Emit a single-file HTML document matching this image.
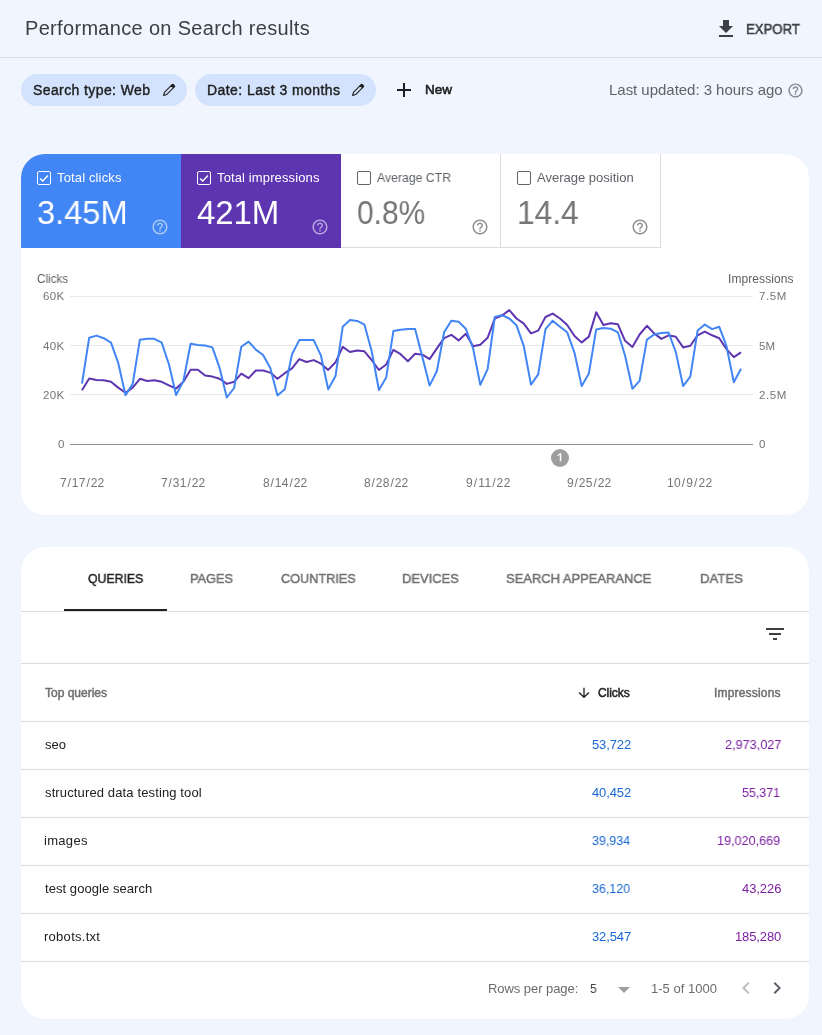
<!DOCTYPE html>
<html><head><meta charset="utf-8"><title>Performance</title><style>
html,body{margin:0;padding:0}
body{width:822px;height:1035px;background:#f1f5fd;position:relative;overflow:hidden;font-family:"Liberation Sans", sans-serif;}
.t{position:absolute;white-space:pre;line-height:20px;transform-origin:0 0;will-change:transform;font-family:"Liberation Sans", sans-serif;}
.i{position:absolute;display:block}
.b{position:absolute;box-sizing:border-box}
</style></head><body>
<div class="b" style="left:0;top:57px;width:822px;height:1px;background:#dce0df"></div>
<svg class="i" style="left:714px;top:17px" width="24" height="24" viewBox="0 0 24 24"><path d="M19 9h-4V3H9v6H5l7 7 7-7zM5 18v2h14v-2H5z" fill="#3c4043" fill-opacity="1"/></svg>
<div class="b" style="left:21px;top:74px;width:166px;height:32px;border-radius:16px;background:#d3e3fd"></div>
<div class="b" style="left:195px;top:74px;width:181px;height:32px;border-radius:16px;background:#d3e3fd"></div>
<svg class="i" style="left:158.60px;top:80.30px" width="20" height="20" viewBox="-10 -10 20 20"><g transform="rotate(45)" stroke="#1f1f1f" stroke-width="1.1" stroke-linejoin="round"><path d="M-1.55,-4.9 L-1.55,4.9 L0,7.6 L1.55,4.9 L1.55,-4.9 Z" fill="none"/><path d="M-1.55,-4.9 L-1.55,-6.3 Q-1.55,-6.8 -1.05,-6.8 L1.05,-6.8 Q1.55,-6.8 1.55,-6.3 L1.55,-4.9 Z" fill="#1f1f1f"/></g></svg>
<svg class="i" style="left:347.60px;top:80.30px" width="20" height="20" viewBox="-10 -10 20 20"><g transform="rotate(45)" stroke="#1f1f1f" stroke-width="1.1" stroke-linejoin="round"><path d="M-1.55,-4.9 L-1.55,4.9 L0,7.6 L1.55,4.9 L1.55,-4.9 Z" fill="none"/><path d="M-1.55,-4.9 L-1.55,-6.3 Q-1.55,-6.8 -1.05,-6.8 L1.05,-6.8 Q1.55,-6.8 1.55,-6.3 L1.55,-4.9 Z" fill="#1f1f1f"/></g></svg>
<div class="b" style="left:397px;top:89px;width:14px;height:2px;background:#1f1f1f"></div>
<div class="b" style="left:403px;top:83px;width:2px;height:14px;background:#1f1f1f"></div>
<svg class="i" style="left:786.8px;top:81.5px" width="17" height="17" viewBox="0 0 24 24"><path d="M11 18h2v-2h-2v2zm1-16C6.48 2 2 6.48 2 12s4.48 10 10 10 10-4.480 10-10S17.52 2 12 2zm0 18c-4.41 0-8-3.59-8-8s3.590-8 8-8 8 3.590 8 8-3.590 8-8 8zm0-14c-2.21 0-4 1.790-4 4h2c0-1.100.900-2 2-2s2 .900 2 2c0 2-3 1.750-3 5h2c0-2.250 3-2.500 3-5 0-2.210-1.790-4-4-4z" fill="#5f6368" fill-opacity="0.75"/></svg>
<div class="b" style="left:21px;top:154px;width:788px;height:361px;border-radius:24px;background:#fff;overflow:hidden"><div class="b" style="left:0;top:0;width:160px;height:94px;background:#4285f4"></div><div class="b" style="left:160px;top:0;width:160px;height:94px;background:#5e35b1"></div><div class="b" style="left:320px;top:0;width:160px;height:94px;border-right:1px solid #dadce0;border-bottom:1px solid #dadce0"></div><div class="b" style="left:480px;top:0;width:160px;height:94px;border-right:1px solid #dadce0;border-bottom:1px solid #dadce0"></div></div>
<div class="b" style="left:37px;top:171px;width:14px;height:14px;border:1.4px solid #fff;border-radius:2px"></div>
<svg class="i" style="left:37px;top:171px" width="14" height="14" viewBox="0 0 14 14"><path d="M3.1 7.4 L5.7 10 L11 4.6" fill="none" stroke="#fff" stroke-width="1.4"/></svg>
<div class="b" style="left:197px;top:171px;width:14px;height:14px;border:1.4px solid #fff;border-radius:2px"></div>
<svg class="i" style="left:197px;top:171px" width="14" height="14" viewBox="0 0 14 14"><path d="M3.1 7.4 L5.7 10 L11 4.6" fill="none" stroke="#fff" stroke-width="1.4"/></svg>
<div class="b" style="left:357px;top:171px;width:14px;height:14px;border:1.4px solid #5f6368;border-radius:2px"></div>
<div class="b" style="left:517px;top:171px;width:14px;height:14px;border:1.4px solid #5f6368;border-radius:2px"></div>
<svg class="i" style="left:151px;top:218px" width="18" height="18" viewBox="0 0 24 24"><path d="M11 18h2v-2h-2v2zm1-16C6.48 2 2 6.48 2 12s4.48 10 10 10 10-4.480 10-10S17.52 2 12 2zm0 18c-4.41 0-8-3.59-8-8s3.590-8 8-8 8 3.590 8 8-3.590 8-8 8zm0-14c-2.21 0-4 1.790-4 4h2c0-1.100.900-2 2-2s2 .900 2 2c0 2-3 1.750-3 5h2c0-2.250 3-2.500 3-5 0-2.210-1.790-4-4-4z" fill="#fff" fill-opacity="0.55"/></svg>
<svg class="i" style="left:311px;top:218px" width="18" height="18" viewBox="0 0 24 24"><path d="M11 18h2v-2h-2v2zm1-16C6.48 2 2 6.48 2 12s4.48 10 10 10 10-4.480 10-10S17.52 2 12 2zm0 18c-4.41 0-8-3.59-8-8s3.590-8 8-8 8 3.590 8 8-3.590 8-8 8zm0-14c-2.21 0-4 1.790-4 4h2c0-1.100.900-2 2-2s2 .900 2 2c0 2-3 1.750-3 5h2c0-2.250 3-2.500 3-5 0-2.210-1.790-4-4-4z" fill="#fff" fill-opacity="0.55"/></svg>
<svg class="i" style="left:471px;top:218px" width="18" height="18" viewBox="0 0 24 24"><path d="M11 18h2v-2h-2v2zm1-16C6.48 2 2 6.48 2 12s4.48 10 10 10 10-4.480 10-10S17.52 2 12 2zm0 18c-4.41 0-8-3.59-8-8s3.590-8 8-8 8 3.590 8 8-3.590 8-8 8zm0-14c-2.21 0-4 1.790-4 4h2c0-1.100.900-2 2-2s2 .900 2 2c0 2-3 1.750-3 5h2c0-2.250 3-2.500 3-5 0-2.210-1.790-4-4-4z" fill="#5f6368" fill-opacity="0.7"/></svg>
<svg class="i" style="left:631px;top:218px" width="18" height="18" viewBox="0 0 24 24"><path d="M11 18h2v-2h-2v2zm1-16C6.48 2 2 6.48 2 12s4.48 10 10 10 10-4.480 10-10S17.52 2 12 2zm0 18c-4.41 0-8-3.59-8-8s3.590-8 8-8 8 3.590 8 8-3.590 8-8 8zm0-14c-2.21 0-4 1.790-4 4h2c0-1.100.900-2 2-2s2 .900 2 2c0 2-3 1.750-3 5h2c0-2.250 3-2.500 3-5 0-2.210-1.790-4-4-4z" fill="#5f6368" fill-opacity="0.7"/></svg>
<svg class="i" style="left:0;top:0" width="822" height="520" viewBox="0 0 822 520"><line x1="70" x2="753" y1="296.5" y2="296.5" stroke="#e9e9e9" stroke-width="1"/><line x1="70" x2="753" y1="345.5" y2="345.5" stroke="#e9e9e9" stroke-width="1"/><line x1="70" x2="753" y1="394.5" y2="394.5" stroke="#e9e9e9" stroke-width="1"/><line x1="70" x2="753" y1="444.5" y2="444.5" stroke="#8f8f8f" stroke-width="1"/><polyline points="82.0,390.2 89.2,378.4 96.5,380.0 103.7,380.3 111.0,381.8 118.2,387.6 125.5,392.8 132.7,387.6 139.9,378.8 147.2,381.0 154.4,380.3 161.7,381.8 168.9,385.4 176.1,388.6 183.4,381.8 190.6,369.8 197.9,369.8 205.1,375.5 212.4,376.6 219.6,378.8 226.8,383.9 234.1,381.8 241.3,373.7 248.6,378.1 255.8,370.5 263.1,370.5 270.3,372.6 277.5,378.7 284.8,373.2 292.0,368.4 299.3,359.1 306.5,362.0 313.7,360.1 321.0,363.7 328.2,369.9 335.5,362.3 342.7,346.9 350.0,352.0 357.2,350.6 364.4,351.3 371.7,360.1 378.9,370.0 386.2,364.5 393.4,349.9 400.6,354.2 407.9,361.2 415.1,353.8 422.4,354.7 429.6,359.1 436.9,348.4 444.1,338.2 451.3,334.8 458.6,340.4 465.8,333.8 473.1,346.2 480.3,344.7 487.6,337.8 494.8,318.5 502.0,315.5 509.3,310.1 516.5,318.5 523.8,323.6 531.0,333.4 538.2,330.6 545.5,317.0 552.7,313.6 560.0,318.5 567.2,325.0 574.5,336.0 581.7,342.4 588.9,336.6 596.2,312.2 603.4,325.0 610.7,323.3 617.9,324.3 625.1,340.8 632.4,346.9 639.6,334.5 646.9,325.8 654.1,333.4 661.4,338.9 668.6,335.3 675.8,336.7 683.1,347.4 690.3,345.8 697.6,335.3 704.8,331.6 712.1,335.3 719.3,338.2 726.5,349.1 733.8,357.2 741.0,352.3" fill="none" stroke="#5e35b1" stroke-width="2" stroke-linejoin="round"/><polyline points="82.0,383.5 89.2,337.7 96.5,335.6 103.7,338.2 111.0,342.6 118.2,362.8 125.5,395.2 132.7,383.9 139.9,339.7 147.2,338.8 154.4,338.8 161.7,342.6 168.9,364.2 176.1,395.0 183.4,381.0 190.6,343.8 197.9,345.0 205.1,345.5 212.4,347.4 219.6,367.9 226.8,397.5 234.1,388.0 241.3,346.7 248.6,341.6 255.8,349.6 263.1,355.0 270.3,367.9 277.5,395.5 284.8,389.3 292.0,354.2 299.3,340.1 306.5,340.1 313.7,340.1 321.0,355.7 328.2,389.3 335.5,376.1 342.7,326.8 350.0,319.9 357.2,320.9 364.4,324.6 371.7,351.3 378.9,390.0 386.2,377.6 393.4,330.9 400.6,329.7 407.9,329.1 415.1,329.1 422.4,357.2 429.6,385.6 436.9,371.0 444.1,332.3 451.3,320.7 458.6,321.8 465.8,328.7 473.1,348.4 480.3,384.9 487.6,369.2 494.8,317.0 502.0,315.1 509.3,318.5 516.5,325.3 523.8,346.2 531.0,384.6 538.2,374.4 545.5,329.1 552.7,320.7 560.0,326.8 567.2,332.3 574.5,352.8 581.7,386.1 588.9,373.4 596.2,329.4 603.4,328.0 610.7,328.7 617.9,332.3 625.1,355.7 632.4,388.8 639.6,380.8 646.9,339.6 654.1,334.5 661.4,333.1 668.6,332.6 675.8,352.0 683.1,386.1 690.3,376.7 697.6,330.6 704.8,324.6 712.1,329.1 719.3,326.8 726.5,346.2 733.8,382.3 741.0,368.8" fill="none" stroke="#4285f4" stroke-width="2" stroke-linejoin="round"/><circle cx="560" cy="458" r="9" fill="#9e9e9e"/><path d="M559.75,461.2 V455.1 L557.4,456.0 V454.9 L560.5,453.1 H561.25 V461.2 Z" fill="#fff"/></svg>
<div class="b" style="left:21px;top:547px;width:788px;height:472px;border-radius:24px;background:#fff;overflow:hidden"><div class="b" style="left:0;top:64px;width:788px;height:1px;background:#dadce0"></div><div class="b" style="left:0;top:116px;width:788px;height:1px;background:#dadce0"></div><div class="b" style="left:0;top:174px;width:788px;height:1px;background:#dadce0"></div><div class="b" style="left:0;top:222px;width:788px;height:1px;background:#dadce0"></div><div class="b" style="left:0;top:270px;width:788px;height:1px;background:#dadce0"></div><div class="b" style="left:0;top:318px;width:788px;height:1px;background:#dadce0"></div><div class="b" style="left:0;top:366px;width:788px;height:1px;background:#dadce0"></div><div class="b" style="left:0;top:414px;width:788px;height:1px;background:#dadce0"></div><div class="b" style="left:43px;top:62px;width:103px;height:2px;background:#202124"></div></div>
<svg class="i" style="left:763px;top:622px" width="24" height="24" viewBox="0 0 24 24"><path d="M10 18h4v-2h-4v2zM3 6v2h18V6H3zm3 7h12v-2H6v2z" fill="#3c4043" fill-opacity="1"/></svg>
<svg class="i" style="left:575.7px;top:685.2px" width="16" height="16" viewBox="0 0 24 24"><path d="M20 12l-1.410-1.410L13 16.170V4h-2v12.170l-5.580-5.590L4 12l8 8 8-8z" fill="#202124"/></svg>
<svg class="i" style="left:618px;top:986.5px" width="12" height="6" viewBox="0 0 12 6"><path d="M0 0h12L6 6z" fill="#9e9e9e"/></svg>
<svg class="i" style="left:733.5px;top:976px" width="24" height="24" viewBox="0 0 24 24"><path d="M15.41 7.41L14 6l-6 6 6 6 1.410-1.410L10.830 12z" fill="#bdbdbd" fill-opacity="1"/></svg>
<svg class="i" style="left:764.8px;top:976px" width="24" height="24" viewBox="0 0 24 24"><path d="M10 6L8.590 7.410 13.170 12l-4.580 4.590L10 18l6-6z" fill="#5f6368" fill-opacity="1"/></svg>
<div class="t" style="left:25.00px;top:18.07px;font-size:20px;font-weight:400;color:#3c4043;letter-spacing:0.321px;">Performance on Search results</div>
<div class="t" style="left:745.56px;top:19.45px;font-size:14px;font-weight:400;color:#3c4043;transform:scaleX(0.9386);-webkit-text-stroke:0.5px #3c4043;">EXPORT</div>
<div class="t" style="left:33.40px;top:80.15px;font-size:14px;font-weight:400;color:#1f1f1f;letter-spacing:0.400px;-webkit-text-stroke:0.42px #1f1f1f;">Search type: Web</div>
<div class="t" style="left:206.50px;top:80.15px;font-size:14px;font-weight:400;color:#1f1f1f;letter-spacing:0.428px;-webkit-text-stroke:0.42px #1f1f1f;">Date: Last 3 months</div>
<div class="t" style="left:425.00px;top:80.12px;font-size:13.5px;font-weight:400;color:#1f1f1f;transform:scaleX(0.9857);-webkit-text-stroke:0.6px #1f1f1f;">New</div>
<div class="t" style="left:609.40px;top:79.80px;font-size:15px;font-weight:400;color:#5f6368;letter-spacing:-0.029px;">Last updated: 3 hours ago</div>
<div class="t" style="left:57.20px;top:167.70px;font-size:13px;font-weight:400;color:#fff;letter-spacing:0.145px;">Total clicks</div>
<div class="t" style="left:37.01px;top:202.77px;font-size:33px;font-weight:400;color:#fff;transform:scaleX(0.9886);">3.45M</div>
<div class="t" style="left:217.20px;top:167.70px;font-size:13px;font-weight:400;color:#fff;letter-spacing:0.125px;">Total impressions</div>
<div class="t" style="left:197.40px;top:202.77px;font-size:33px;font-weight:400;color:#fff;letter-spacing:-0.100px;">421M</div>
<div class="t" style="left:377.20px;top:167.70px;font-size:13px;font-weight:400;color:#5f6368;transform:scaleX(0.9423);">Average CTR</div>
<div class="t" style="left:357.09px;top:202.77px;font-size:33px;font-weight:400;color:#757575;transform:scaleX(0.9082);">0.8%</div>
<div class="t" style="left:537.20px;top:167.70px;font-size:13px;font-weight:400;color:#5f6368;">Average position</div>
<div class="t" style="left:516.98px;top:202.77px;font-size:33px;font-weight:400;color:#757575;transform:scaleX(0.9613);">14.4</div>
<div class="t" style="left:37.40px;top:268.84px;font-size:12px;font-weight:400;color:#616161;transform:scaleX(0.9719);">Clicks</div>
<div class="t" style="left:727.50px;top:268.84px;font-size:12px;font-weight:400;color:#616161;letter-spacing:0.080px;">Impressions</div>
<div class="t" style="left:42.80px;top:286.22px;font-size:11.5px;font-weight:400;color:#757575;letter-spacing:0.400px;">60K</div>
<div class="t" style="left:42.80px;top:335.52px;font-size:11.5px;font-weight:400;color:#757575;letter-spacing:0.400px;">40K</div>
<div class="t" style="left:42.80px;top:384.82px;font-size:11.5px;font-weight:400;color:#757575;letter-spacing:0.400px;">20K</div>
<div class="t" style="left:58.00px;top:434.22px;font-size:11.5px;font-weight:400;color:#757575;transform:scaleX(0.9667);">0</div>
<div class="t" style="left:759.40px;top:286.22px;font-size:11.5px;font-weight:400;color:#757575;letter-spacing:0.600px;">7.5M</div>
<div class="t" style="left:759.40px;top:335.52px;font-size:11.5px;font-weight:400;color:#757575;">5M</div>
<div class="t" style="left:759.40px;top:384.82px;font-size:11.5px;font-weight:400;color:#757575;letter-spacing:0.600px;">2.5M</div>
<div class="t" style="left:759.40px;top:434.22px;font-size:11.5px;font-weight:400;color:#757575;transform:scaleX(0.9667);">0</div>
<div class="t" style="left:60.00px;top:473.14px;font-size:12px;font-weight:400;color:#757575;letter-spacing:0.267px;">7<span style="margin:0 0.65px">/</span>17<span style="margin:0 0.65px">/</span>22</div>
<div class="t" style="left:161.39px;top:473.14px;font-size:12px;font-weight:400;color:#757575;letter-spacing:0.267px;">7<span style="margin:0 0.65px">/</span>31<span style="margin:0 0.65px">/</span>22</div>
<div class="t" style="left:262.78px;top:473.14px;font-size:12px;font-weight:400;color:#757575;letter-spacing:0.267px;">8<span style="margin:0 0.65px">/</span>14<span style="margin:0 0.65px">/</span>22</div>
<div class="t" style="left:364.17px;top:473.14px;font-size:12px;font-weight:400;color:#757575;letter-spacing:0.267px;">8<span style="margin:0 0.65px">/</span>28<span style="margin:0 0.65px">/</span>22</div>
<div class="t" style="left:465.56px;top:473.14px;font-size:12px;font-weight:400;color:#757575;letter-spacing:0.433px;">9<span style="margin:0 0.65px">/</span>11<span style="margin:0 0.65px">/</span>22</div>
<div class="t" style="left:566.95px;top:473.14px;font-size:12px;font-weight:400;color:#757575;letter-spacing:0.267px;">9<span style="margin:0 0.65px">/</span>25<span style="margin:0 0.65px">/</span>22</div>
<div class="t" style="left:667.34px;top:473.14px;font-size:12px;font-weight:400;color:#757575;letter-spacing:0.433px;">10<span style="margin:0 0.65px">/</span>9<span style="margin:0 0.65px">/</span>22</div>
<div class="t" style="left:87.70px;top:569.32px;font-size:13.5px;font-weight:400;color:#202124;transform:scaleX(0.9098);-webkit-text-stroke:0.5px #202124;">QUERIES</div>
<div class="t" style="left:189.86px;top:569.32px;font-size:13.5px;font-weight:400;color:#707070;transform:scaleX(0.9444);-webkit-text-stroke:0.5px #707070;">PAGES</div>
<div class="t" style="left:280.80px;top:569.32px;font-size:13.5px;font-weight:400;color:#707070;transform:scaleX(0.94);-webkit-text-stroke:0.5px #707070;">COUNTRIES</div>
<div class="t" style="left:402.44px;top:569.32px;font-size:13.5px;font-weight:400;color:#707070;transform:scaleX(0.9586);-webkit-text-stroke:0.5px #707070;">DEVICES</div>
<div class="t" style="left:506.40px;top:569.32px;font-size:13.5px;font-weight:400;color:#707070;transform:scaleX(0.9592);-webkit-text-stroke:0.5px #707070;">SEARCH APPEARANCE</div>
<div class="t" style="left:699.53px;top:569.32px;font-size:13.5px;font-weight:400;color:#707070;transform:scaleX(0.9744);-webkit-text-stroke:0.5px #707070;">DATES</div>
<div class="t" style="left:45.00px;top:682.94px;font-size:12px;font-weight:400;color:#707070;-webkit-text-stroke:0.5px #707070;">Top queries</div>
<div class="t" style="left:598.00px;top:682.94px;font-size:12px;font-weight:400;color:#202124;letter-spacing:-0.060px;-webkit-text-stroke:0.5px #202124;">Clicks</div>
<div class="t" style="left:713.80px;top:682.94px;font-size:12px;font-weight:400;color:#707070;letter-spacing:0.180px;-webkit-text-stroke:0.5px #707070;">Impressions</div>
<div class="t" style="left:45.20px;top:734.50px;font-size:13px;font-weight:400;color:#202124;">seo</div>
<div class="t" style="left:591.70px;top:734.50px;font-size:13px;font-weight:400;color:#1967d2;letter-spacing:-0.120px;">53,722</div>
<div class="t" style="left:725.00px;top:734.50px;font-size:13px;font-weight:400;color:#7b1fa2;transform:scaleX(0.9754);">2,973,027</div>
<div class="t" style="left:45.20px;top:782.50px;font-size:13px;font-weight:400;color:#202124;letter-spacing:0.130px;">structured data testing tool</div>
<div class="t" style="left:591.70px;top:782.50px;font-size:13px;font-weight:400;color:#1967d2;letter-spacing:-0.120px;">40,452</div>
<div class="t" style="left:742.30px;top:782.50px;font-size:13px;font-weight:400;color:#7b1fa2;transform:scaleX(0.9575);">55,371</div>
<div class="t" style="left:44.20px;top:830.50px;font-size:13px;font-weight:400;color:#202124;letter-spacing:0.300px;">images</div>
<div class="t" style="left:592.30px;top:830.50px;font-size:13px;font-weight:400;color:#1967d2;transform:scaleX(0.96);">39,934</div>
<div class="t" style="left:717.43px;top:830.50px;font-size:13px;font-weight:400;color:#7b1fa2;transform:scaleX(0.9719);">19,020,669</div>
<div class="t" style="left:45.20px;top:878.50px;font-size:13px;font-weight:400;color:#202124;letter-spacing:0.059px;">test google search</div>
<div class="t" style="left:592.30px;top:878.50px;font-size:13px;font-weight:400;color:#1967d2;transform:scaleX(0.96);">36,120</div>
<div class="t" style="left:741.60px;top:878.50px;font-size:13px;font-weight:400;color:#7b1fa2;letter-spacing:-0.080px;">43,226</div>
<div class="t" style="left:44.20px;top:926.50px;font-size:13px;font-weight:400;color:#202124;letter-spacing:0.278px;">robots.txt</div>
<div class="t" style="left:591.70px;top:926.50px;font-size:13px;font-weight:400;color:#1967d2;letter-spacing:-0.120px;">32,547</div>
<div class="t" style="left:734.60px;top:926.50px;font-size:13px;font-weight:400;color:#7b1fa2;letter-spacing:-0.117px;">185,280</div>
<div class="t" style="left:487.80px;top:979.00px;font-size:13px;font-weight:400;color:#6b6b6b;letter-spacing:-0.062px;">Rows per page:</div>
<div class="t" style="left:589.50px;top:979.00px;font-size:13px;font-weight:400;color:#424242;transform:scaleX(0.9286);">5</div>
<div class="t" style="left:650.65px;top:979.00px;font-size:13px;font-weight:400;color:#6b6b6b;letter-spacing:0.010px;">1-5 of 1000</div>
</body></html>
